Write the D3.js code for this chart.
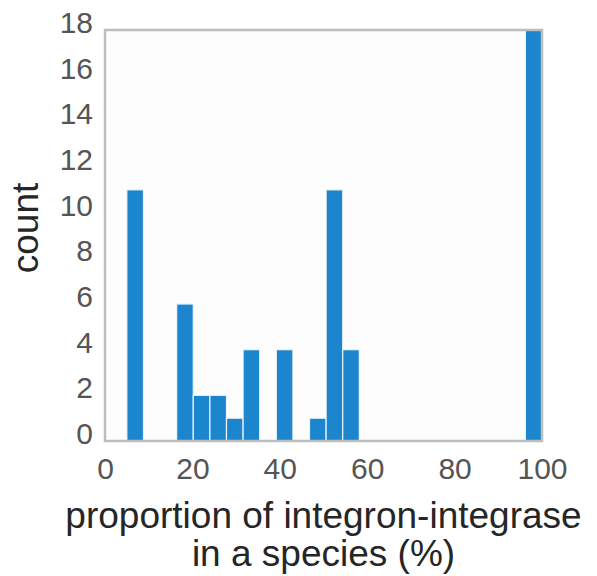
<!DOCTYPE html>
<html>
<head>
<meta charset="utf-8">
<script src="https://cdn.jsdelivr.net/npm/d3@7"></script>
<style>
  html, body { margin: 0; padding: 0; background: #ffffff; }
  svg { display: block; font-family: "Liberation Sans", Arial, Helvetica, sans-serif; }
</style>
</head>
<body>
<svg id="chart" width="597" height="576"></svg>
<script>
// Histogram bins (lower/upper edges, %) and counts
const binStarts = [5, 8.8, 12.6, 16.4, 20.2, 24, 27.8, 31.6, 35.4, 39.2, 43, 46.8, 50.6, 54.4, 58.2, 62, 65.8, 69.6, 73.4, 77.2, 81, 84.8, 88.6, 92.4, 96.2];
const binEnds   = [8.8, 12.6, 16.4, 20.2, 24, 27.8, 31.6, 35.4, 39.2, 43, 46.8, 50.6, 54.4, 58.2, 62, 65.8, 69.6, 73.4, 77.2, 81, 84.8, 88.6, 92.4, 96.2, 100];
const counts    = [11, 0, 0, 6, 2, 2, 1, 4, 0, 4, 0, 1, 11, 4, 0, 0, 0, 0, 0, 0, 0, 0, 0, 0, 18];
const xTicks = [0, 20, 40, 60, 80, 100];
const yTicks = [0, 2, 4, 6, 8, 10, 12, 14, 16, 18];
const xLabelLines = ["proportion of integron-integrase", "in a species (%)"];
const yLabel = "count";

const svg = d3.select("#chart");
const pL = 105, pR = 542, pT = 30, pB = 441;

const x = d3.scaleLinear().domain([0, 100]).range([pL, pR]);
const y = d3.scaleLinear().domain([0, 18]).range([pB, pT]);

// plot background
svg.append("rect")
  .attr("x", pL).attr("y", pT)
  .attr("width", pR - pL).attr("height", pB - pT)
  .attr("fill", "#fdfdfd");

const bins = binStarts.map((s, i) => ({ x0: s, x1: binEnds[i], c: counts[i] }));

svg.append("g").selectAll("rect")
  .data(bins.filter(d => d.c > 0))
  .join("rect")
  .attr("x", d => x(d.x0))
  .attr("y", d => y(d.c))
  .attr("width", d => x(d.x1) - x(d.x0))
  .attr("height", d => y(0) - y(d.c))
  .attr("fill", "#1b86ce")
  .attr("stroke", "#eef3f8")
  .attr("stroke-width", 1.2);

// frame
svg.append("rect")
  .attr("x", pL).attr("y", pT)
  .attr("width", pR - pL).attr("height", pB - pT)
  .attr("fill", "none")
  .attr("stroke", "#bdbdbd")
  .attr("stroke-width", 2.5);

// axes
const xAxis = svg.append("g")
  .attr("transform", `translate(0,${pB})`)
  .call(d3.axisBottom(x).tickValues(xTicks).tickSize(0).tickPadding(17).tickFormat(d3.format("d")));
const yAxis = svg.append("g")
  .attr("transform", `translate(${pL},0)`)
  .call(d3.axisLeft(y).tickValues(yTicks).tickSize(0).tickPadding(12).tickFormat(d3.format("d")));
[xAxis, yAxis].forEach(a => {
  a.select(".domain").remove();
  a.selectAll("text")
    .attr("fill", "#555555")
    .style("font-size", "30px")
    .style("font-family", "'Liberation Sans', Arial, sans-serif");
});
xAxis.selectAll("text").attr("dy", "0.71em");
yAxis.selectAll("text").attr("dy", "0.08em");

// axis labels
const xl = svg.append("text")
  .attr("text-anchor", "middle")
  .attr("fill", "#262626")
  .style("font-size", "37px");
xLabelLines.forEach((t, i) => {
  xl.append("tspan")
    .attr("x", (pL + pR) / 2)
    .attr("y", 528 + i * 38)
    .text(t);
});

svg.append("text")
  .attr("transform", `translate(38,228) rotate(-90)`)
  .attr("text-anchor", "middle")
  .attr("fill", "#262626")
  .style("font-size", "37px")
  .text(yLabel);
</script>
</body>
</html>
